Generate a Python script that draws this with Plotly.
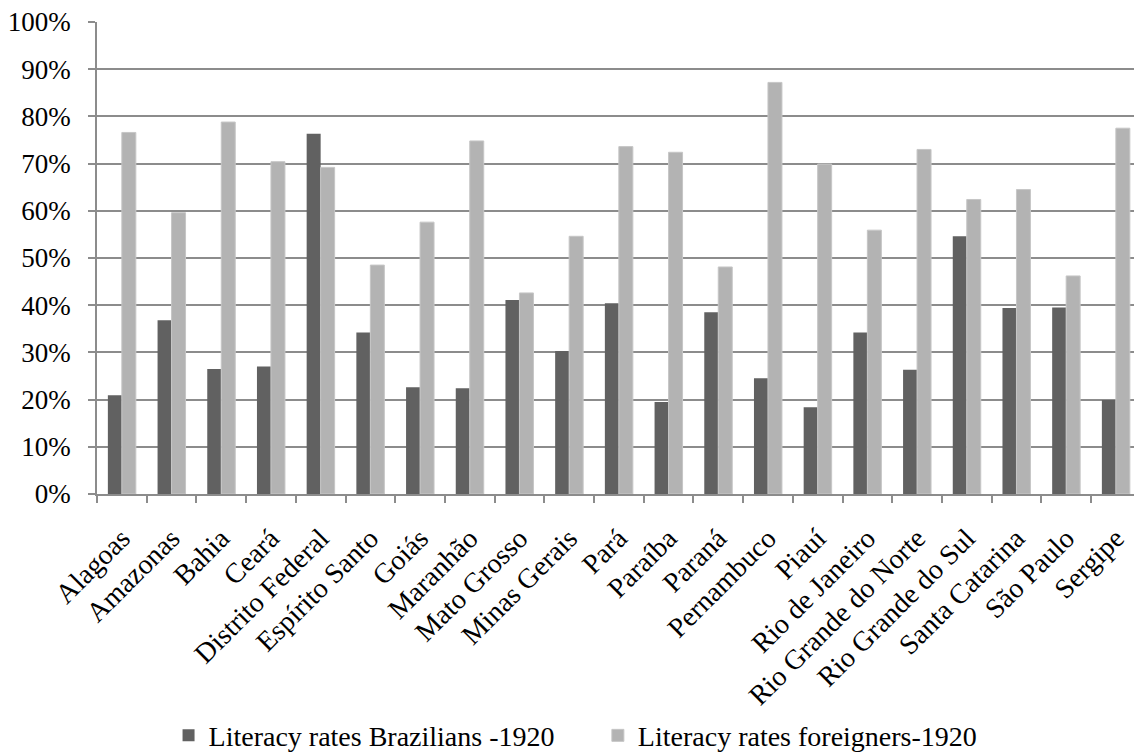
import plotly.graph_objects as go

states = [
    "Alagoas", "Amazonas", "Bahia", "Ceará", "Distrito Federal",
    "Espírito Santo", "Goiás", "Maranhão", "Mato Grosso", "Minas Gerais",
    "Pará", "Paraíba", "Paraná", "Pernambuco", "Piauí", "Rio de Janeiro",
    "Rio Grande do Norte", "Rio Grande do Sul", "Santa Catarina",
    "São Paulo", "Sergipe",
]

brazilians_1920 = [
    20.9, 36.8, 26.5, 27.0, 76.3, 34.2, 22.6, 22.4, 41.1, 30.3, 40.4,
    19.5, 38.5, 24.5, 18.4, 34.2, 26.3, 54.6, 39.4, 39.5, 19.9,
]

foreigners_1920 = [
    76.6, 59.6, 78.8, 70.4, 69.2, 48.5, 57.6, 74.8, 42.6, 54.6, 73.6,
    72.4, 48.1, 87.2, 69.9, 55.9, 73.0, 62.4, 64.5, 46.2, 77.5,
]

y_ticks = list(range(0, 101, 10))
y_tick_labels = [f"{v}%" for v in y_ticks]

FONT = "Liberation Serif"
GRID = "#8c8c8c"

fig = go.Figure()
fig.add_trace(go.Bar(
    x=states, y=brazilians_1920,
    name="Literacy rates Brazilians -1920",
    marker=dict(color="#616161", line=dict(width=0)),
    legend="legend",
))
fig.add_trace(go.Bar(
    x=states, y=foreigners_1920,
    name="Literacy rates foreigners-1920",
    marker=dict(color="#b3b3b3", line=dict(width=1, color="#c6c6c6")),
    legend="legend2",
))

legend_common = dict(
    orientation="h",
    font=dict(family=FONT, size=28, color="#000000"),
    bgcolor="rgba(0,0,0,0)",
    borderwidth=0,
    yref="paper",
    yanchor="middle",
    y=-0.512,
    xanchor="left",
    itemwidth=30,
)

fig.update_layout(
    width=1134,
    height=753,
    margin=dict(l=97, r=0, t=22, b=259, autoexpand=False),
    paper_bgcolor="white",
    plot_bgcolor="white",
    barmode="group",
    bargap=0.437,
    bargroupgap=0,
    font=dict(family=FONT, size=28, color="#000000"),
    showlegend=True,
    legend=dict(legend_common, x=0.069),
    legend2=dict(legend_common, x=0.483),
    xaxis=dict(
        type="category",
        range=[-0.5, 20.365],
        automargin=False,
        tickson="boundaries",
        ticks="outside",
        ticklen=7,
        tickwidth=1.5,
        tickcolor=GRID,
        tickangle=-45,
        ticklabelstandoff=15,
        tickfont=dict(family=FONT, size=28, color="#000000"),
        showline=True,
        linecolor=GRID,
        linewidth=1.5,
        showgrid=False,
        fixedrange=True,
    ),
    yaxis=dict(
        range=[0, 100],
        automargin=False,
        tickvals=y_ticks,
        ticktext=y_tick_labels,
        ticks="outside",
        ticklen=7,
        tickwidth=1.5,
        tickcolor=GRID,
        ticklabelstandoff=12,
        tickfont=dict(family=FONT, size=27, color="#000000"),
        showline=True,
        linecolor=GRID,
        linewidth=1.5,
        showgrid=True,
        gridcolor=GRID,
        gridwidth=1.5,
        zeroline=False,
        fixedrange=True,
    ),
)

fig.write_html("out.html")
